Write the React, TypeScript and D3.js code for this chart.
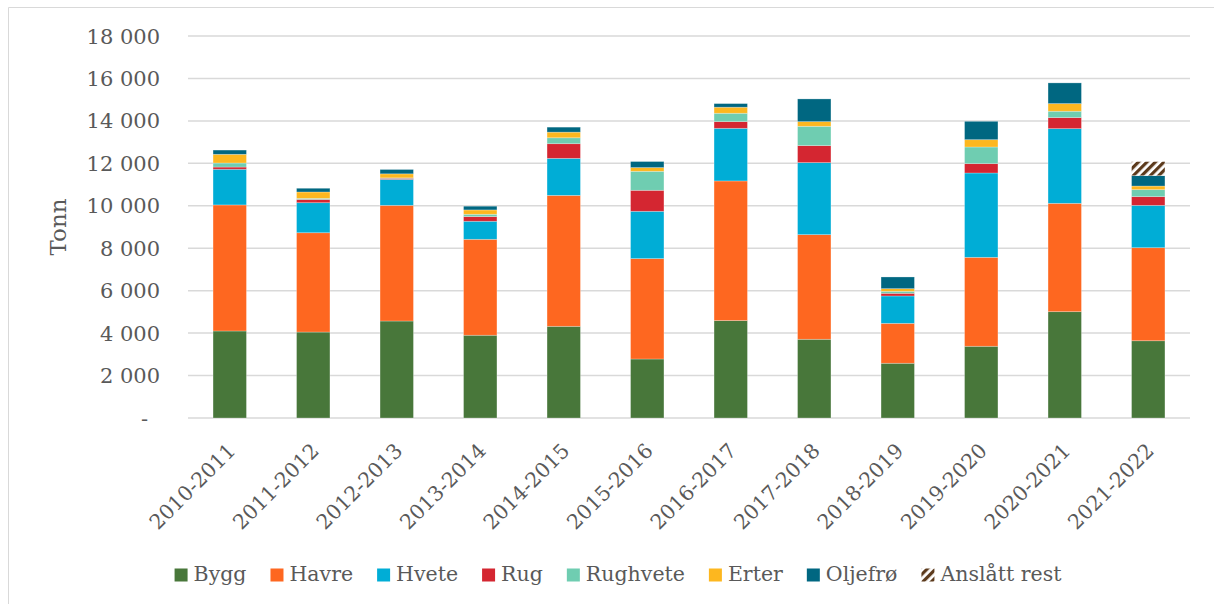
import React, { useEffect, useRef } from 'react';
import * as d3 from 'd3';

const categories = ['2010-2011','2011-2012','2012-2013','2013-2014','2014-2015','2015-2016','2016-2017','2017-2018','2018-2019','2019-2020','2020-2021','2021-2022'];
const bygg =     [4100, 4050, 4570, 3900, 4320, 2780, 4590, 3710, 2580, 3380, 5010, 3640];
const havre =    [5940, 4680, 5450, 4520, 6170, 4730, 6580, 4930, 1880, 4190, 5105, 4385];
const hvete =    [1680, 1415, 1225, 850, 1745, 2230, 2480, 3395, 1290, 3975, 3520, 1995];
const rug =      [105, 155, 50, 220, 690, 990, 315, 800, 125, 440, 520, 410];
const rughvete = [190, 50, 20, 110, 280, 895, 395, 910, 95, 785, 300, 330];
const erter =    [410, 300, 190, 205, 265, 175, 285, 220, 125, 345, 360, 170];
const oljefro =  [200, 175, 205, 175, 235, 285, 170, 1070, 550, 865, 975, 490];
const anslatt =  [0, 0, 0, 0, 0, 0, 0, 0, 0, 0, 0, 660];

const seriesNames = ['Bygg','Havre','Hvete','Rug','Rughvete','Erter','Oljefrø','Anslått rest'];
const seriesValues = [bygg, havre, hvete, rug, rughvete, erter, oljefro, anslatt];
const seriesColors = ['#48773a','#fe6720','#00add6','#d42631','#6fcdb1','#fdb71f','#006781','url(#hatch)'];
const yTicks = [0, 2000, 4000, 6000, 8000, 10000, 12000, 14000, 16000, 18000];

const FONT = '"DejaVu Serif", Georgia, serif';
const TXT = '#595959';

export default function App() {
  const ref = useRef<SVGSVGElement>(null);
  useEffect(() => {
    const svg = d3.select(ref.current);
    svg.selectAll('*').remove();

    const defs = svg.append('defs');
    const pat = defs.append('pattern').attr('id', 'hatch').attr('patternUnits', 'userSpaceOnUse')
      .attr('width', 6).attr('height', 6).attr('patternTransform', 'rotate(45)');
    pat.append('rect').attr('width', 6).attr('height', 6).attr('fill', '#ffffff');
    pat.append('rect').attr('width', 3.2).attr('height', 6).attr('fill', '#5c3a1c');

    // chart border (top & left visible)
    svg.append('path').attr('d', 'M8.5,620 L8.5,7.5 L1220,7.5').attr('fill', 'none').attr('stroke', '#d9d9d9').attr('stroke-width', 1);

    const x = d3.scaleBand<string>().domain(categories).range([188, 1190]).paddingInner(0.6).paddingOuter(0.3);
    const y = d3.scaleLinear().domain([0, 18000]).range([418, 36]);

    // gridlines
    svg.append('g').selectAll('line').data(yTicks).join('line')
      .attr('x1', 188).attr('x2', 1190)
      .attr('y1', d => y(d)).attr('y2', d => y(d))
      .attr('stroke', '#d9d9d9').attr('stroke-width', 1.5);

    // y tick labels
    const fmt = (v: number) => v === 0 ? '-' : d3.format(',')(v).replace(/,/g, ' ');
    svg.append('g').selectAll('text').data(yTicks).join('text')
      .attr('x', d => d === 0 ? 148 : 160).attr('y', d => y(d)).attr('dy', '0.36em')
      .attr('text-anchor', 'end').attr('font-family', FONT).attr('font-size', 21).attr('fill', TXT)
      .text(d => fmt(d));

    // y title
    svg.append('text').attr('transform', `translate(66,${(y(0) + y(18000)) / 2}) rotate(-90)`)
      .attr('text-anchor', 'middle').attr('font-family', FONT).attr('font-size', 23).attr('fill', TXT)
      .text('Tonn');

    // stacked bars
    const rows = categories.map((c, i) => {
      const r: any = { cat: c };
      seriesNames.forEach((s, j) => { r[s] = seriesValues[j][i]; });
      return r;
    });
    const stacked = d3.stack().keys(seriesNames)(rows);
    const g = svg.append('g');
    stacked.forEach((layer, j) => {
      g.append('g').selectAll('rect').data(layer.filter(d => d[1] - d[0] > 0)).join('rect')
        .attr('x', d => x((d.data as any).cat) as number)
        .attr('width', x.bandwidth())
        .attr('y', d => y(d[1]))
        .attr('height', d => y(d[0]) - y(d[1]))
        .attr('fill', seriesColors[j])
        .attr('stroke', '#ffffff').attr('stroke-opacity', 0.35).attr('stroke-width', 0.75);
    });

    // x labels
    svg.append('g').selectAll('text').data(categories).join('text')
      .attr('transform', d => `translate(${(x(d) as number) + x.bandwidth() / 2 + 7},452) rotate(-45)`)
      .attr('text-anchor', 'end').attr('font-family', FONT).attr('font-size', 20.5).attr('fill', TXT)
      .text(d => d);

    // legend
    const lg = svg.append('g');
    const items = seriesNames.map((name, j) => {
      const it = lg.append('g');
      it.append('rect').attr('x', 0).attr('y', -12.5).attr('width', 13).attr('height', 13).attr('fill', seriesColors[j]);
      const t = it.append('text').attr('x', 19).attr('y', 0).attr('font-family', FONT).attr('font-size', 20.5).attr('fill', TXT).text(name);
      const w = 19 + ((t.node() as SVGTextElement).getComputedTextLength());
      return { it, w };
    });
    const gap = 24;
    const total = items.reduce((a, b) => a + b.w, 0) + gap * (items.length - 1);
    let cx = 618 - total / 2;
    items.forEach(({ it, w }) => {
      it.attr('transform', `translate(${cx},581)`);
      cx += w + gap;
    });
  }, []);

  return (
    <svg ref={ref} width={1214} height={604} style={{ position: 'absolute', left: 0, top: 0, background: '#fff' }} />
  );
}
